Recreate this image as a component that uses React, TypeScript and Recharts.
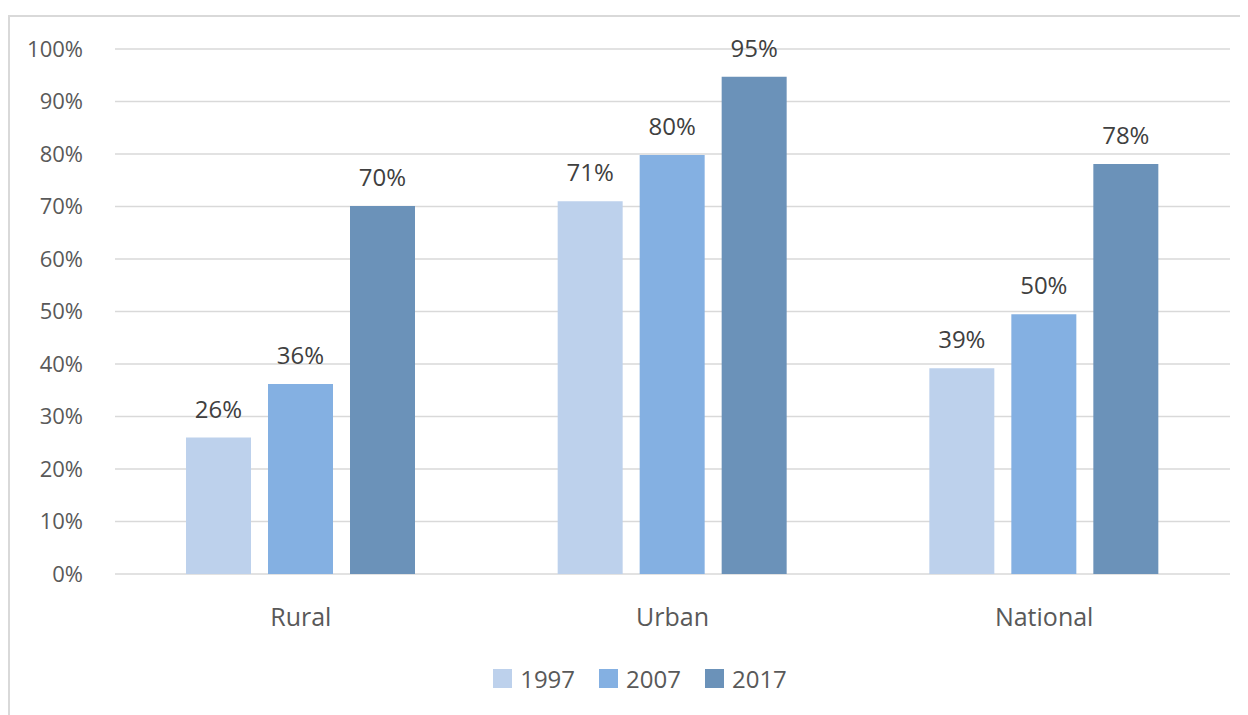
import { BarChart, Bar, XAxis, YAxis, CartesianGrid, Legend, LabelList } from "recharts";

const regions = ["Rural", "Urban", "National"];
const y1997 = [26, 71, 39.2];
const y2007 = [36.2, 79.8, 49.5];
const y2017 = [70.1, 94.7, 78.1];
const yTicks = [0, 10, 20, 30, 40, 50, 60, 70, 80, 90, 100];

const series = [
  { key: "y1997", name: "1997", color: "#BDD1EC" },
  { key: "y2007", name: "2007", color: "#84B0E2" },
  { key: "y2017", name: "2017", color: "#6B92B9" },
];

const data = regions.map((region, i) => ({
  region,
  y1997: y1997[i],
  y2007: y2007[i],
  y2017: y2017[i],
}));

const FONT = "'Open Sans', 'Noto Sans', sans-serif";

// legend sits a bit right of the plot centre in the original, hence the left padding
const LegendBox = () => (
  <div
    style={{
      height: 61,
      boxSizing: "border-box",
      paddingTop: 13,
      paddingLeft: 40,
      display: "flex",
      justifyContent: "center",
      gap: 24,
      fontFamily: FONT,
      fontSize: 24,
      color: "#595959",
    }}
  >
    {series.map((s) => (
      <div key={s.key} style={{ display: "flex", alignItems: "center", gap: 8, height: 22 }}>
        <span style={{ width: 19, height: 19, backgroundColor: s.color, display: "inline-block" }} />
        <span>{s.name}</span>
      </div>
    ))}
  </div>
);

const App = () => {
  return (
    <div
      style={{
        marginTop: 7,
        width: 1240,
        height: 700,
        borderTop: "2px solid #D9D9D9",
        borderLeft: "2px solid #D9D9D9",
        fontFamily: FONT,
      }}
    >
      <BarChart
        width={1238}
        height={698}
        data={data}
        margin={{ top: 32, right: 18, left: 0, bottom: 0 }}
        barGap={17}
        barCategoryGap={71}
      >
        <CartesianGrid vertical={false} stroke="#D9D9D9" strokeWidth={1.5} />
        <XAxis
          dataKey="region"
          axisLine={false}
          tickLine={false}
          tickSize={0}
          tickMargin={34}
          height={80}
          tick={{ fill: "#595959", fontSize: 25, fontFamily: FONT }}
        />
        <YAxis
          domain={[0, 100]}
          ticks={yTicks}
          width={105}
          axisLine={false}
          tickLine={false}
          tickSize={0}
          tickMargin={32}
          tickFormatter={(v: number) => `${v}%`}
          tick={{ fill: "#595959", fontSize: 22, fontFamily: FONT }}
        />
        <Legend verticalAlign="bottom" content={<LegendBox />} />
        {series.map((s) => (
          <Bar key={s.key} dataKey={s.key} name={s.name} fill={s.color} isAnimationActive={false}>
            <LabelList
              dataKey={s.key}
              position="top"
              offset={20}
              formatter={(v: number) => `${Math.round(v)}%`}
              style={{ fill: "#404040", fontSize: 24, fontFamily: FONT }}
            />
          </Bar>
        ))}
      </BarChart>
    </div>
  );
};

export default App;
